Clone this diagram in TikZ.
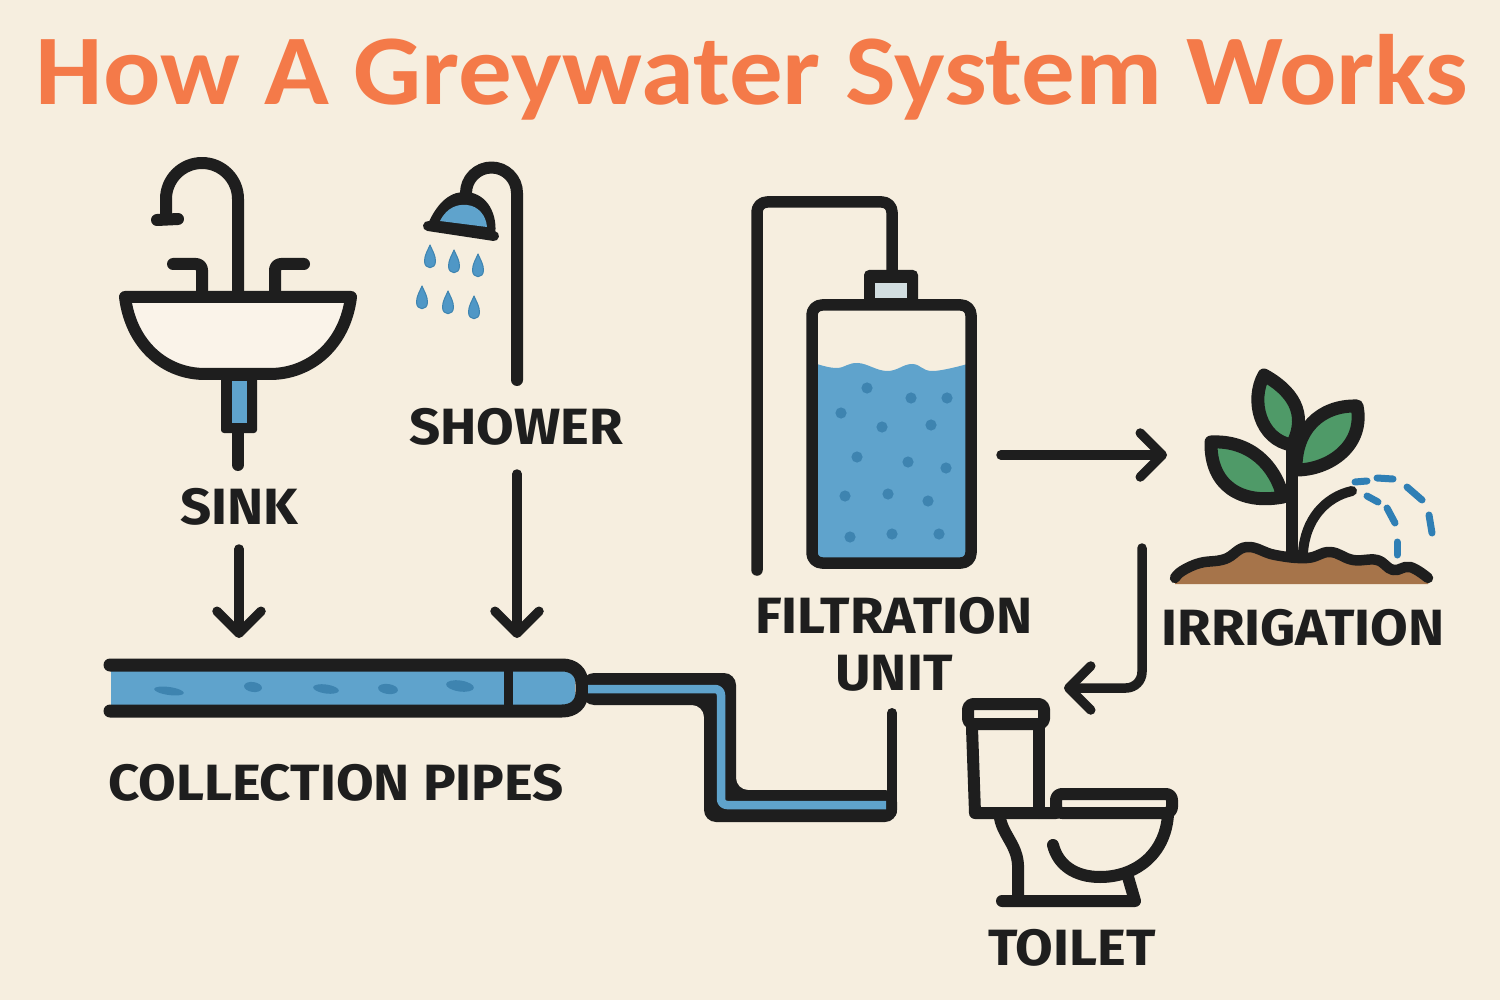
\documentclass[tikz,border=0pt]{standalone}
\usepackage{fontspec}
\usetikzlibrary{arrows.meta}
\setmainfont[FakeStretch=1.07]{Carlito}
\newfontfamily\labelface[FakeStretch=1.07]{Fira Sans}
\definecolor{paper}{HTML}{F6EEDF}
\definecolor{ink}{HTML}{1E1E1E}
\definecolor{titleorange}{HTML}{F47A49}
\definecolor{water}{HTML}{5FA3CC}
\definecolor{waterdark}{HTML}{3E84B0}
\definecolor{dropblue}{HTML}{4F97C6}
\definecolor{spray}{HTML}{2F7FB5}
\definecolor{basin}{HTML}{FAF3E9}
\definecolor{leaf}{HTML}{4F9A68}
\definecolor{soil}{HTML}{A6744A}
\definecolor{capglass}{HTML}{D2DEE0}
\tikzset{
  tag/.style={font=\labelface\bfseries\fontsize{51}{56}\selectfont,text=ink,inner sep=0pt,align=center},
  outline/.style={draw=ink,line width=12pt},
  flow/.style={draw=ink,line width=9.5pt,-{Straight Barb[round,length=22pt,width=44pt]}},
  speck/.style={fill=waterdark},
  droplet/.style={fill=#1,draw=waterdark,line width=1pt},
  jet/.style={draw=spray,line width=7pt},
}
\newcommand{\waterdrop}[2]{%
  \path[droplet=dropblue] (#1-5.5,#2+4) .. controls (#1-5.5,#2-2) and (#1-2,#2-7) .. (#1,#2-12)
    .. controls (#1+2,#2-7) and (#1+5.5,#2-2) .. (#1+5.5,#2+4)
    .. controls (#1+5.5,#2+13) and (#1-5.5,#2+13) .. (#1-5.5,#2+4) -- cycle;}
\begin{document}
\begin{tikzpicture}[x=1pt,y=-1pt,line cap=round,line join=round]
\useasboundingbox[fill=paper] (0,0) rectangle (1500,1000);

% heading
\node[font=\bfseries\fontsize{100}{110}\selectfont,text=titleorange,inner sep=0pt] (heading) at (752,77.5) {How A Greywater System Works};

% wash basin and tap
\draw[outline] (238,297) -- (238,199) arc[start angle=0,end angle=-180,radius=36] -- (166,219);
\draw[outline] (157,220) -- (178,219);
\draw[outline,rounded corners=6pt] (173,264) -- (202,264) -- (202,297);
\draw[outline,rounded corners=6pt] (304,264) -- (275,264) -- (275,297);
\draw[outline,fill=basin] (125,297) -- (351,297) .. controls (345,345) and (310,374) .. (270,374)
  -- (205,374) .. controls (165,374) and (131,345) .. (125,297) -- cycle;
\draw[outline] (238,430) -- (238,465);
\fill[ink,rounded corners=3pt] (221,376) rectangle (257,433);
\fill[water] (232,381) rectangle (247,423);

% shower
\draw[outline] (517,380) -- (517,193) arc[start angle=0,end angle=-180,radius=25.5] -- (466,195);
\fill[ink] (427,226) .. controls (438,200) and (452,191) .. (467,192)
  .. controls (488,194) and (498,215) .. (495,236) -- cycle;
\draw[ink,line width=10pt] (428,226) -- (494,236);
\fill[water] (440,221) .. controls (447,207) and (458,204) .. (467,205)
  .. controls (478,206) and (486,215) .. (487,227) -- cycle;
\waterdrop{430}{257}\waterdrop{454}{262}\waterdrop{478}{266}
\waterdrop{422}{298}\waterdrop{448}{303}\waterdrop{474}{308}

% collection pipe
\fill[water] (111,668) rectangle (575,708);
\foreach \px/\py/\pw/\ph in {169/691/15/4,253/687/9/5,326/689/13/4.5,388/689/10/5,460/686/14/5.5}
  \fill[speck,rotate around={-8:(\px,\py)}] (\px,\py) ellipse[x radius=\pw,y radius=\ph];
\draw[ink,line width=13pt] (110,665) -- (562,665) .. controls (574,665) and (582,672) .. (582,684)
  -- (582,692) .. controls (582,704) and (574,711) .. (562,711) -- (110,711);
\draw[ink,line width=9pt,line cap=butt] (508,665) -- (508,711);

% outlet run towards the filter
\fill[ink,rounded corners=12pt] (582,673) -- (736,673) -- (736,790) -- (897,790) -- (897,822)
  -- (704,822) -- (704,705) -- (582,705) -- cycle;
\draw[ink,line width=10pt] (892,713) -- (892,812);
\draw[water,line width=8.5pt,rounded corners=6pt,line cap=butt] (588,689) -- (721,689) -- (721,805) -- (886,805);

% filtration tank
\draw[outline,line width=11.5pt,rounded corners=10pt] (757,570) -- (757,202) -- (892,202) -- (892,275);
\fill[ink,rounded corners=5pt] (864,270) rectangle (918,304);
\fill[capglass] (875,283) rectangle (907,298);
\fill[paper] (812,305) rectangle (971,563);
\fill[water] (812,364) -- plot[smooth,tension=0.7] coordinates {(817,364) (837,368) (858,363) (887,371) (912,364) (933,371) (971,363)}
  -- (971,563) -- (812,563) -- cycle;
\foreach \dx/\dy in {867/388,911/398,947/398,841/413,882/427,931/425,857/457,908/462,946/468,845/496,888/494,928/501,850/537,892/534,939/534}
  \fill[speck] (\dx,\dy) circle[radius=5.6];
\draw[outline,line width=11.5pt,rounded corners=10pt] (812,305) rectangle (971,563);

% seedling and soil
\fill[soil] (1175,584) -- (1175,578) -- plot[smooth,tension=0.7] coordinates {(1182,571) (1200,563) (1225,559) (1247,547) (1275,555) (1307,558) (1330,552) (1353,560) (1377,560) (1393,570) (1410,567) (1428,578)} -- (1428,584) -- cycle;
\draw[ink,line width=12pt] (1292,450) -- (1292,553);
\draw[ink,line width=10pt] (1303,553) .. controls (1305,520) and (1325,497) .. (1352,491);
\draw[outline,line width=13pt,fill=leaf] (1264,375) .. controls (1300,395) and (1305,420) .. (1292,445)
  .. controls (1260,440) and (1250,400) .. (1264,375) -- cycle;
\draw[outline,line width=13pt,fill=leaf] (1357,406) .. controls (1320,405) and (1295,430) .. (1296,470)
  .. controls (1330,470) and (1365,445) .. (1357,406) -- cycle;
\draw[outline,line width=13pt,fill=leaf] (1211,442) .. controls (1250,440) and (1275,465) .. (1283,497)
  .. controls (1240,505) and (1210,485) .. (1211,442) -- cycle;
\draw[ink,line width=10.5pt] plot[smooth,tension=0.7] coordinates {(1175,578) (1182,571) (1200,563) (1225,559) (1247,547) (1275,555) (1307,558) (1330,552) (1353,560) (1377,560) (1393,570) (1410,567) (1428,578)};
\draw[jet] (1355,482) -- (1367,481);
\draw[jet] (1377,478) -- (1393,479);
\draw[jet] (1407,487) -- (1422,500);
\draw[jet] (1429,515) -- (1432,533);
\draw[jet] (1367,496) -- (1378,502);
\draw[jet] (1387,508) -- (1395,523);
\draw[jet] (1397,542) -- (1397,555);

% toilet
\draw[outline] (972,728) -- (975,813) -- (1056,813);
\draw[outline] (1039,728) -- (1039,813);
\draw[outline,rounded corners=5pt] (968,704) rectangle (1044,724);
\draw[outline,rounded corners=6pt] (1056,813) -- (1056,794) -- (1172,794) -- (1172,813) -- cycle;
\draw[outline] (1168,815) .. controls (1165,855) and (1135,877) .. (1100,877)
  .. controls (1075,877) and (1058,865) .. (1053,845);
\draw[outline] (1000,818) .. controls (1003,835) and (1017,845) .. (1018,865) -- (1018,897);
\draw[outline] (1002,901) -- (1135,901) -- (1128,877);

% captions
\node[tag] (sinktag) at (239,507) {SINK};
\node[tag] (showertag) at (516,427) {SHOWER};
\node[tag] (filtertag) at (894,644) {FILTRATION\\[1pt]UNIT};
\node[tag] (irrigationtag) at (1303,628) {IRRIGATION};
\node[tag] (pipestag) at (336,783) {COLLECTION PIPES};
\node[tag] (toilettag) at (1072,948) {TOILET};

% flow arrows
\coordinate (sinkout) at (239,549);
\coordinate (pipeinA) at (239,638);
\coordinate (showerout) at (517,474);
\coordinate (pipeinB) at (517,638);
\coordinate (filterout) at (1001,455);
\coordinate (plantin) at (1167,455);
\coordinate (plantout) at (1142,548);
\coordinate (bend) at (1142,688);
\coordinate (toiletin) at (1064,688);
\draw[flow] (sinkout) -- (pipeinA);
\draw[flow] (showerout) -- (pipeinB);
\draw[flow] (filterout) -- (plantin);
\draw[flow,rounded corners=16pt] (plantout) -- (bend) -- (toiletin);
\end{tikzpicture}
\end{document}
